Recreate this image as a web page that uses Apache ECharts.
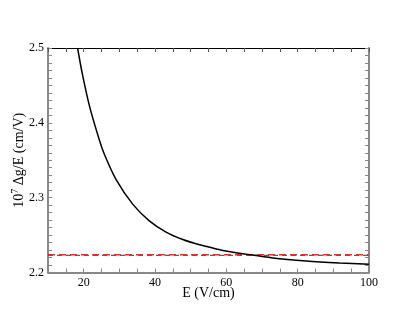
<!DOCTYPE html>
<html><head><meta charset="utf-8">
<script src="https://cdn.jsdelivr.net/npm/echarts@6/dist/echarts.min.js"></script>
<style>html,body{margin:0;padding:0;background:#fff}#c{width:415px;height:321px}</style>
</head><body><div id="c"></div>
<script>
var eValues = [18.3, 19.6, 21.6, 24.4, 25.8, 29.1, 33.8, 38.4, 43.1, 47.8, 52.5, 57.2, 59.0, 65.6, 73.0, 82.4, 91.7, 100];
var curveValues = [2.500, 2.466, 2.423, 2.377, 2.358, 2.324, 2.291, 2.269, 2.254, 2.244, 2.237, 2.2315, 2.2295, 2.2245, 2.2195, 2.2155, 2.2128, 2.2110];
var redLineE = [10, 100];
var redLineValues = [2.2238, 2.2238];
var blackDashE = [10, 100];
var blackDashValues = [2.2230, 2.2230];
var xTicks = [20, 40, 60, 80, 100];
var yTicks = [2.2, 2.3, 2.4, 2.5];

function pairs(xs, ys){ return xs.map(function(x,i){return [x, ys[i]];}); }
var font = 'Liberation Serif';
var grey = '#888888';
var chart = echarts.init(document.getElementById('c'), null, {renderer:'canvas'});
chart.setOption({
  animation:false,
  grid:{left:48, right:46, top:48, bottom:48.5, containLabel:false, outerBoundsMode:'none'},
  xAxis:[{
    type:'value', min:10, max:100, interval:5, position:'bottom',
    name:'E (V/cm)', nameLocation:'middle', nameGap:14, nameMoveOverlap:false,
    nameTextStyle:{fontFamily:font, fontSize:14, color:'#000'},
    axisLine:{lineStyle:{color:grey, width:2}},
    axisTick:{inside:true, length:4, lineStyle:{color:grey}},
    axisLabel:{fontFamily:font, fontSize:12, color:'#000', margin:4,
      formatter:function(v){return xTicks.indexOf(v)>=0 ? String(v) : '';}},
    splitLine:{show:false}
  },{
    type:'value', min:10, max:100, interval:5, position:'top',
    axisLine:{show:true, lineStyle:{color:'#000', width:1}},
    axisTick:{inside:true, length:4, lineStyle:{color:'#555'}},
    axisLabel:{show:false}, splitLine:{show:false}
  }],
  yAxis:[{
    type:'value', min:2.2, max:2.5, interval:0.01, position:'left',
    name:'{n|10}{s|7}{n| Δg/E (cm/V)}', nameLocation:'middle', nameGap:20, nameRotate:90, nameMoveOverlap:false,
    nameTextStyle:{fontFamily:font, fontSize:14, color:'#000',
      rich:{n:{fontFamily:font, fontSize:14, color:'#000'}, s:{fontFamily:font, fontSize:10, color:'#000', verticalAlign:'top', padding:[0,0,8,0]}}},
    axisLine:{show:true, lineStyle:{color:grey, width:2}},
    axisTick:{inside:true, length:4, lineStyle:{color:grey}},
    axisLabel:{fontFamily:font, fontSize:12, color:'#000', margin:4,
      formatter:function(v){var r=Math.round(v*100)/100; return yTicks.some(function(t){return Math.abs(v-t)<1e-6;}) ? r.toFixed(1) : '';}},
    splitLine:{show:false}
  },{
    type:'value', min:2.2, max:2.5, interval:0.01, position:'right',
    axisLine:{show:true, lineStyle:{color:grey, width:2}},
    axisTick:{inside:true, length:4, lineStyle:{color:grey}},
    axisLabel:{show:false}, splitLine:{show:false}
  }],
  series:[{
    type:'line', data:pairs(blackDashE, blackDashValues), symbol:'none',
    lineStyle:{color:'#333', width:1, type:[5,4]}, silent:true
  },{
    type:'line', data:pairs(redLineE, redLineValues), symbol:'none',
    lineStyle:{color:'#ff2020', width:1.5, type:[7,4]}, silent:true
  },{
    type:'line', data:pairs(eValues, curveValues), symbol:'none', smooth:0.3,
    lineStyle:{color:'#000', width:1.5}, clip:true, silent:true
  }]
});
</script></body></html>
